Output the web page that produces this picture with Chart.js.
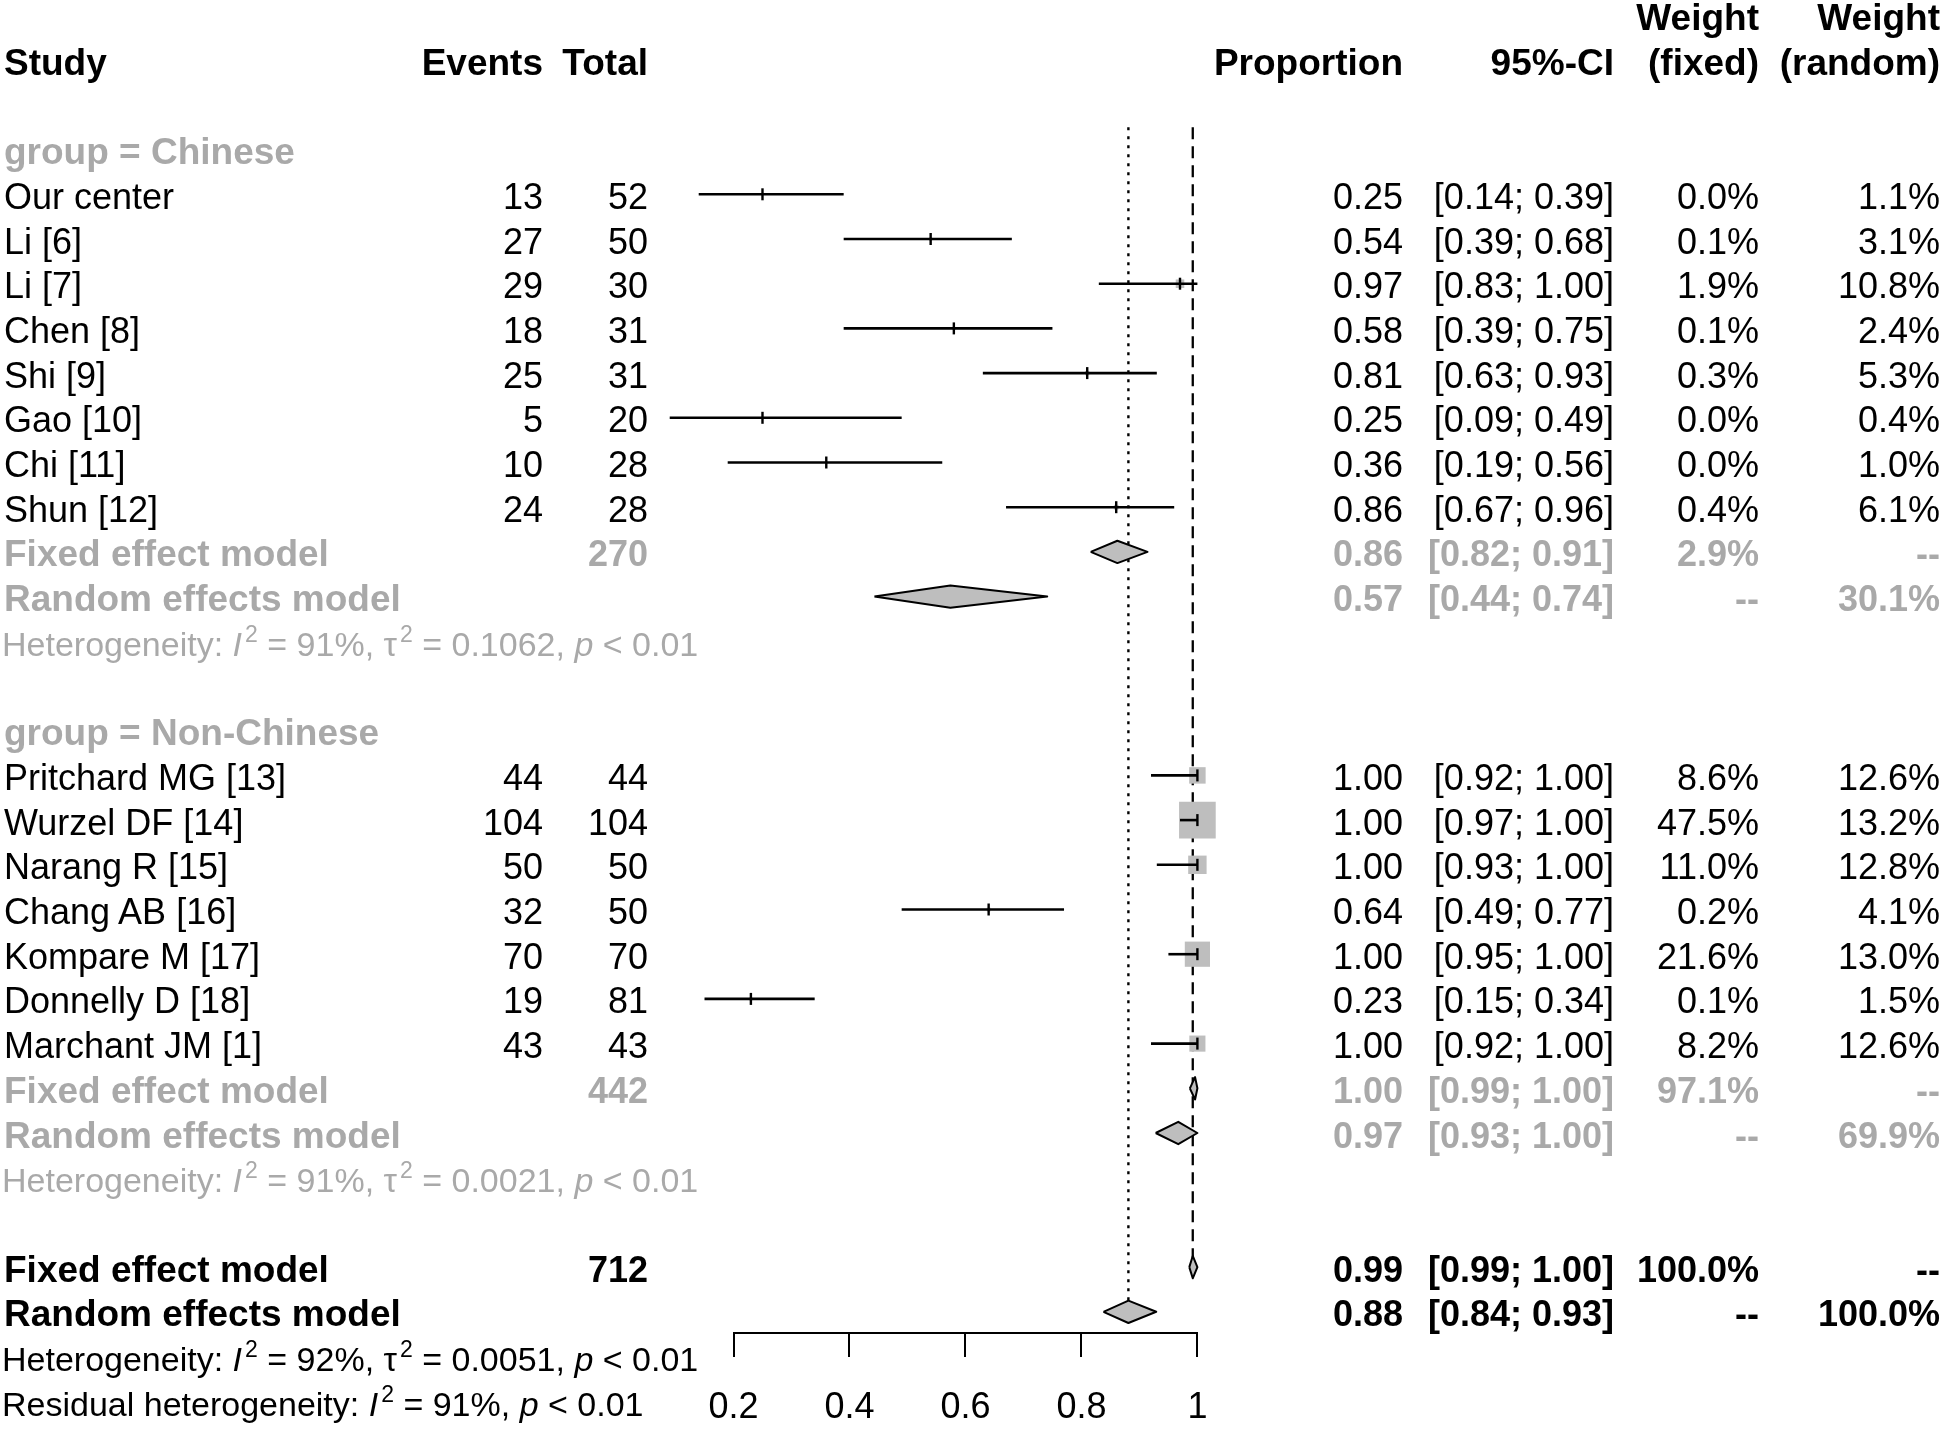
<!DOCTYPE html>
<html>
<head>
<meta charset="utf-8">
<title>Forest plot</title>
<script src="https://cdn.jsdelivr.net/npm/chart.js@4.4.1/dist/chart.umd.min.js"></script>
<style>
  html, body { margin: 0; padding: 0; background: #fff; }
  #wrap { position: relative; width: 1946px; height: 1429px; overflow: hidden; }
  #forest { position: absolute; left: 0; top: 0; }
  .cell { position: absolute; white-space: nowrap; font-family: 'Liberation Sans', Arial, sans-serif;
          font-size: 36px; line-height: 40px; color: #000; }
  .b { font-weight: bold; }
  .bt { font-weight: bold; font-size: 37px; }
  .grey { color: #a9a9a9; }
  .het { font-size: 34px; }
  .cell sup { font-size: 23px; position: relative; top: -14px; vertical-align: baseline; line-height: 0; margin-left: 3px; }
</style>
</head>
<body>
<div id="wrap">
  <canvas id="forest" width="1946" height="1429"></canvas>
  <div id="labels"></div>
</div>
<script>
// studies
const groups = ['Chinese', 'Non-Chinese'];
const studies = ['Our center', 'Li [6]', 'Li [7]', 'Chen [8]', 'Shi [9]', 'Gao [10]', 'Chi [11]', 'Shun [12]',
  'Pritchard MG [13]', 'Wurzel DF [14]', 'Narang R [15]', 'Chang AB [16]', 'Kompare M [17]', 'Donnelly D [18]', 'Marchant JM [1]'];
const studyGroup = [0, 0, 0, 0, 0, 0, 0, 0, 1, 1, 1, 1, 1, 1, 1];
const events = [13, 27, 29, 18, 25, 5, 10, 24, 44, 104, 50, 32, 70, 19, 43];
const totals = [52, 50, 30, 31, 31, 20, 28, 28, 44, 104, 50, 50, 70, 81, 43];
const proportion = [0.25, 0.54, 0.97, 0.58, 0.81, 0.25, 0.36, 0.86, 1.00, 1.00, 1.00, 0.64, 1.00, 0.23, 1.00];
const ciLower = [0.14, 0.39, 0.83, 0.39, 0.63, 0.09, 0.19, 0.67, 0.92, 0.97, 0.93, 0.49, 0.95, 0.15, 0.92];
const ciUpper = [0.39, 0.68, 1.00, 0.75, 0.93, 0.49, 0.56, 0.96, 1.00, 1.00, 1.00, 0.77, 1.00, 0.34, 1.00];
const weightFixed = [0.0, 0.1, 1.9, 0.1, 0.3, 0.0, 0.0, 0.4, 8.6, 47.5, 11.0, 0.2, 21.6, 0.1, 8.2];
const weightRandom = [1.1, 3.1, 10.8, 2.4, 5.3, 0.4, 1.0, 6.1, 12.6, 13.2, 12.8, 4.1, 13.0, 1.5, 12.6];

// summaries: Chinese, Non-Chinese, overall
const groupTotals = [270, 442, 712];
const fixedEst = [0.862, 0.996, 0.992];
const fixedLow = [0.816, 0.987, 0.986];
const fixedUp = [0.914, 1.000, 1.000];
const fixedWeight = [2.9, 97.1, 100.0];
const randomEst = [0.574, 0.967, 0.881];
const randomLow = [0.443, 0.928, 0.838];
const randomUp = [0.741, 1.000, 0.929];
const randomWeight = [30.1, 69.9, 100.0];
const hetI2 = [91, 91, 92];
const hetTau2 = [0.1062, 0.0021, 0.0051];
const hetP = ['< 0.01', '< 0.01', '< 0.01'];
const residualI2 = 91;
const residualP = '< 0.01';

// axis
const tickValues = [0.2, 0.4, 0.6, 0.8, 1];
const tickLabels = ['0.2', '0.4', '0.6', '0.8', '1'];

// layout
const W = 1946;
const COL = { study: 4, events: 543, total: 648, prop: 1403, ci: 1614, wFixed: 1759, wRandom: 1940 };
const GREY = '#a9a9a9';
const SQUARE = '#bebebe';
const DIAMOND_HALF = 0.25;   // in rows
const AXIS_ROW = 28.48;
const ROW0_PX = 60.2;        // pixel of row 0
const ROW_PX = 44.7;         // row height
const TEXT_SHIFT = 2.5;
const LINE_H = 40;

// give every line of the plot a row number
const studyRow = [];
const headerRow = [], fixedRow = [], randomRow = [], hetRow = [];
let r = 2;
groups.forEach((g, gi) => {
  headerRow.push(r++);
  studies.forEach((s, i) => { if (studyGroup[i] === gi) studyRow[i] = r++; });
  fixedRow.push(r++);
  randomRow.push(r++);
  hetRow.push(r++);
  r++;
});
fixedRow.push(r++);
randomRow.push(r++);
hetRow.push(r++);
const residualRow = r;

const datasets = [];

// reference lines for the overall estimates
datasets.push({
  type: 'line', order: 6, clip: false,
  data: [{ x: fixedEst[2], y: 1.5 }, { x: fixedEst[2], y: fixedRow[2] }],
  borderColor: '#000', borderWidth: 2.3, borderDash: [12, 7], pointRadius: 0
});
datasets.push({
  type: 'line', order: 6, clip: false,
  data: [{ x: randomEst[2], y: 1.5 }, { x: randomEst[2], y: randomRow[2] }],
  borderColor: '#000', borderWidth: 2.4, borderDash: [3, 6], pointRadius: 0
});

// weight squares
const studyPoints = studies.map((s, i) => ({ x: proportion[i], y: studyRow[i] }));
datasets.push({
  type: 'scatter', order: 5, clip: false,
  data: studyPoints,
  pointStyle: 'rect',
  pointRadius: weightFixed.map(w => (5.1 * Math.sqrt(w) + 1.5) / Math.SQRT2),
  backgroundColor: SQUARE, borderWidth: 0
});

// confidence intervals
studies.forEach((s, i) => {
  datasets.push({
    type: 'line', order: 4, clip: false,
    data: [{ x: ciLower[i], y: studyRow[i] }, { x: ciUpper[i], y: studyRow[i] }],
    borderColor: '#000', borderWidth: 2.6, pointRadius: 0
  });
});

// point estimate marks
datasets.push({
  type: 'scatter', order: 3, clip: false,
  data: studyPoints,
  pointStyle: 'line', pointRotation: 90, pointRadius: 6,
  borderColor: '#000', borderWidth: 2.4
});

// summary diamonds
const diamonds = [];
[0, 1, 2].forEach(k => {
  diamonds.push([fixedLow[k], fixedEst[k], fixedUp[k], fixedRow[k]]);
  diamonds.push([randomLow[k], randomEst[k], randomUp[k], randomRow[k]]);
});
diamonds.forEach(([lo, est, up, row]) => {
  datasets.push({
    type: 'line', order: 1, clip: false,
    data: [
      { x: lo, y: row }, { x: est, y: row - DIAMOND_HALF }, { x: up, y: row },
      { x: est, y: row + DIAMOND_HALF }, { x: lo, y: row }
    ],
    fill: 'shape', backgroundColor: SQUARE,
    borderColor: '#000', borderWidth: 2, borderJoinStyle: 'round', pointRadius: 0, tension: 0
  });
});

const chart = new Chart(document.getElementById('forest'), {
  type: 'scatter',
  data: { datasets },
  options: {
    responsive: false,
    animation: false,
    events: [],
    layout: { padding: { left: 733.5, right: 748.6, top: 10, bottom: 0 } },
    plugins: { legend: { display: false }, tooltip: { enabled: false } },
    scales: {
      x: {
        type: 'linear', min: 0.2, max: 1,
        position: { y: AXIS_ROW },
        afterBuildTicks: scale => { scale.ticks = tickValues.map(v => ({ value: v })); },
        ticks: {
          callback: (v, i) => tickLabels[i],
          color: '#000', font: { family: 'Liberation Sans', size: 36 },
          padding: 30, autoSkip: false, maxRotation: 0
        },
        grid: { drawOnChartArea: false, drawTicks: true, tickLength: 23, color: '#000', lineWidth: 2 },
        border: { display: true, color: '#000', width: 2 }
      },
      y: { type: 'linear', display: false, reverse: true, min: -1, max: 30.5 }
    }
  }
});

// fit the row scale to the real chart area so that row i sits at ROW0_PX + i * ROW_PX
const area = chart.chartArea;
chart.options.scales.y.min = (area.top - ROW0_PX) / ROW_PX;
chart.options.scales.y.max = (area.bottom - ROW0_PX) / ROW_PX;
chart.update('none');

// text columns
const yScale = chart.scales.y;
const layer = document.getElementById('labels');

function put(row, x, html, cls, align) {
  const el = document.createElement('div');
  el.className = 'cell ' + (cls || '');
  el.innerHTML = html;
  el.style.top = (yScale.getPixelForValue(row) + TEXT_SHIFT - LINE_H / 2) + 'px';
  if (align === 'left') el.style.left = x + 'px';
  else el.style.right = (W - x) + 'px';
  layer.appendChild(el);
}

const fmt = v => v.toFixed(2);
const ci = (lo, up) => '[' + fmt(lo) + '; ' + fmt(up) + ']';
const pct = v => v.toFixed(1) + '%';

function hetText(i2, tau2, p) {
  return 'Heterogeneity: <i>I</i><sup>2</sup> = ' + i2 + '%, &tau;<sup>2</sup> = ' + tau2.toFixed(4) +
    ', <i>p</i> ' + p.replace('<', '&lt;');
}

// header
put(-1, COL.wFixed, 'Weight', 'bt');
put(-1, COL.wRandom, 'Weight', 'bt');
put(0, COL.study, 'Study', 'bt', 'left');
put(0, COL.events, 'Events', 'bt');
put(0, COL.total, 'Total', 'bt');
put(0, COL.prop, 'Proportion', 'bt');
put(0, COL.ci, '95%-CI', 'bt');
put(0, COL.wFixed, '(fixed)', 'bt');
put(0, COL.wRandom, '(random)', 'bt');

groups.forEach((g, gi) => put(headerRow[gi], COL.study, 'group = ' + g, 'bt grey', 'left'));

studies.forEach((s, i) => {
  const row = studyRow[i];
  put(row, COL.study, s, '', 'left');
  put(row, COL.events, String(events[i]));
  put(row, COL.total, String(totals[i]));
  put(row, COL.prop, fmt(proportion[i]));
  put(row, COL.ci, ci(ciLower[i], ciUpper[i]));
  put(row, COL.wFixed, pct(weightFixed[i]));
  put(row, COL.wRandom, pct(weightRandom[i]));
});

[0, 1, 2].forEach(k => {
  const tone = k < 2 ? ' grey' : '';
  put(fixedRow[k], COL.study, 'Fixed effect model', 'bt' + tone, 'left');
  put(fixedRow[k], COL.total, String(groupTotals[k]), 'b' + tone);
  put(fixedRow[k], COL.prop, fmt(fixedEst[k]), 'b' + tone);
  put(fixedRow[k], COL.ci, ci(fixedLow[k], fixedUp[k]), 'b' + tone);
  put(fixedRow[k], COL.wFixed, pct(fixedWeight[k]), 'b' + tone);
  put(fixedRow[k], COL.wRandom, '--', 'b' + tone);

  put(randomRow[k], COL.study, 'Random effects model', 'bt' + tone, 'left');
  put(randomRow[k], COL.prop, fmt(randomEst[k]), 'b' + tone);
  put(randomRow[k], COL.ci, ci(randomLow[k], randomUp[k]), 'b' + tone);
  put(randomRow[k], COL.wFixed, '--', 'b' + tone);
  put(randomRow[k], COL.wRandom, pct(randomWeight[k]), 'b' + tone);

  put(hetRow[k], 2, hetText(hetI2[k], hetTau2[k], hetP[k]), 'het' + tone, 'left');
});

put(residualRow, 2, 'Residual heterogeneity: <i>I</i><sup>2</sup> = ' + residualI2 + '%, <i>p</i> ' +
  residualP.replace('<', '&lt;'), 'het', 'left');
</script>
</body>
</html>
